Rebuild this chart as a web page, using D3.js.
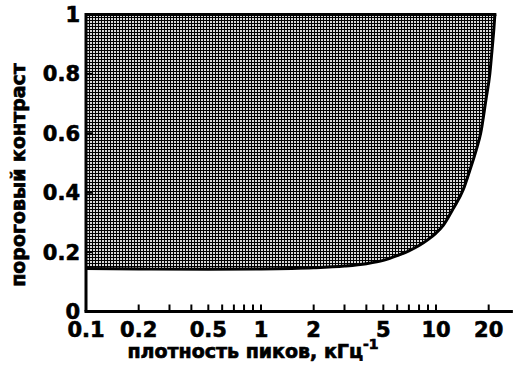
<!DOCTYPE html>
<html><head><meta charset="utf-8">
<script src="https://cdn.jsdelivr.net/npm/d3@7"></script>
<style>body{margin:0;background:#fff}svg{display:block}</style>
</head><body>
<script>
// data
const densityKHz = [0.1, 0.2, 0.5, 1, 2, 3, 4, 5, 6, 7, 8, 9, 10, 11, 12.5, 14.3, 15.5, 17, 18, 19.3, 20.3, 20.9, 21.4, 21.7];
const thresholdContrast = [0.145, 0.143, 0.142, 0.143, 0.147, 0.153, 0.161, 0.172, 0.188, 0.204, 0.222, 0.242, 0.264, 0.29, 0.345, 0.41, 0.47, 0.545, 0.6, 0.714, 0.8, 0.88, 0.95, 1.0];
const xTickLabels = [0.1, 0.2, 0.5, 1, 2, 5, 10, 20];
const xMinorTicks = [0.2,0.3,0.4,0.5,0.6,0.7,0.8,0.9,1,2,3,4,5,6,7,8,9,10,20];
const yTickLabels = [0, 0.2, 0.4, 0.6, 0.8, 1];
const xTitle = "плотность пиков, кГц";
const xTitleSup = "-1";
const yTitle = "пороговый контраст";

const W = 515, H = 367;
const svg = d3.select("body").append("svg").attr("width", W).attr("height", H);
const font = "'DejaVu Sans', sans-serif";

const x = d3.scaleLog().domain([0.1, 27.5]).range([86, 86 + 175 * Math.log10(275)]);
const y = d3.scaleLinear().domain([0, 1]).range([311.5, 14.5]);

// pattern
const defs = svg.append("defs");
const pat = defs.append("pattern").attr("id", "dots").attr("patternUnits", "userSpaceOnUse")
  .attr("width", 3).attr("height", 3);
pat.append("rect").attr("width", 3).attr("height", 3).attr("fill", "#000");
pat.append("rect").attr("x", 0).attr("y", 0).attr("width", 2).attr("height", 2).attr("fill", "#d8d8d8");

const data = densityKHz.map((d, i) => ({x: d, y: thresholdContrast[i]}));

// shaded region
const area = d3.area().curve(d3.curveMonotoneX)
  .x(d => x(d.x)).y0(y(1)).y1(d => y(d.y));
svg.append("path").attr("d", area(data)).attr("fill", "url(#dots)");

// curve + top edge
const line = d3.line().curve(d3.curveMonotoneX).x(d => x(d.x)).y(d => y(d.y));
svg.append("path").attr("d", line(data)).attr("fill", "none").attr("stroke", "#000").attr("stroke-width", 3);
svg.append("line").attr("x1", x(0.1)).attr("x2", x(densityKHz[densityKHz.length - 1]) + 1.5)
  .attr("y1", y(1)).attr("y2", y(1)).attr("stroke", "#000").attr("stroke-width", 3);

// axes lines
svg.append("line").attr("x1", x(0.1)).attr("x2", x(0.1)).attr("y1", y(0)).attr("y2", y(1) - 1.5)
  .attr("stroke", "#000").attr("stroke-width", 3);
svg.append("line").attr("x1", x(0.1) - 1.5).attr("x2", x(27.5)).attr("y1", y(0)).attr("y2", y(0))
  .attr("stroke", "#000").attr("stroke-width", 3);

// x ticks
svg.selectAll(".xt").data(xMinorTicks).enter().append("line")
  .attr("x1", d => x(d)).attr("x2", d => x(d)).attr("y1", y(0)).attr("y2", y(0) - 7)
  .attr("stroke", "#000").attr("stroke-width", 2);
// y ticks
svg.selectAll(".yt").data(yTickLabels.slice(1, 5)).enter().append("line")
  .attr("x1", x(0.1)).attr("x2", x(0.1) + 6).attr("y1", d => y(d)).attr("y2", d => y(d))
  .attr("stroke", "#000").attr("stroke-width", 2);

// labels
svg.selectAll(".xl").data(xTickLabels).enter().append("text")
  .attr("x", d => x(d)).attr("y", 337).attr("text-anchor", "middle")
  .attr("font-family", font).attr("font-weight", "bold").attr("font-size", 21)
  .attr("stroke", "#000").attr("stroke-width", 0.6)
  .text(d => String(d));
svg.selectAll(".yl").data(yTickLabels).enter().append("text")
  .attr("x", 80).attr("y", d => y(d)).attr("dy", "0.36em").attr("text-anchor", "end")
  .attr("font-family", font).attr("font-weight", "bold").attr("font-size", 21)
  .attr("stroke", "#000").attr("stroke-width", 0.6)
  .text(d => String(d));

const xt = svg.append("text").attr("x", 253).attr("y", 358).attr("text-anchor", "middle")
  .attr("font-family", font).attr("font-weight", "bold").attr("font-size", 19)
  .attr("stroke", "#000").attr("stroke-width", 0.7);
xt.append("tspan").text(xTitle);
xt.append("tspan").attr("dy", -9).attr("font-size", 14).text(xTitleSup);

svg.append("text").attr("transform", "translate(25,175) rotate(-90)").attr("text-anchor", "middle")
  .attr("font-family", font).attr("font-weight", "bold").attr("font-size", 19)
  .attr("stroke", "#000").attr("stroke-width", 0.7)
  .text(yTitle);
</script>
</body></html>
